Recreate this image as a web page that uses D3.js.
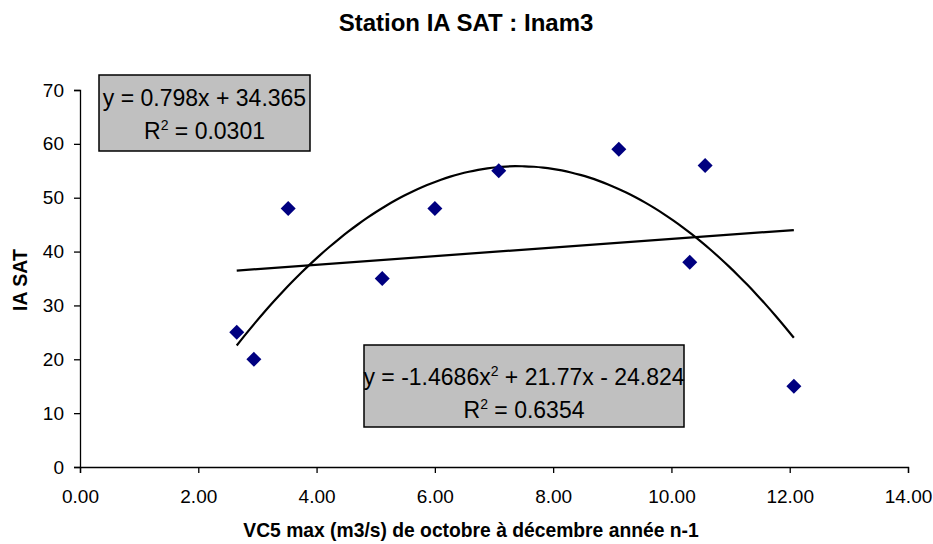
<!DOCTYPE html>
<html><head><meta charset="utf-8">
<script src="https://cdn.jsdelivr.net/npm/d3@7"></script>
<style>body{margin:0;background:#fff}svg{display:block}text{font-family:"Liberation Sans",Arial,sans-serif}</style>
</head><body><svg id="c" width="933" height="544"></svg>
<script>
const xValues = [2.65, 2.94, 3.52, 5.11, 6.00, 7.08, 9.11, 10.31, 10.57, 12.07];
const yValues = [25, 20, 48, 35, 48, 55, 59, 38, 56, 15];
const linearCoef = [34.365, 0.798];            // a + b x
const polyCoef = [-24.824, 21.77, -1.4686];   // a + b x + c x^2
const xTicks = [0, 2, 4, 6, 8, 10, 12, 14];
const yTicks = [0, 10, 20, 30, 40, 50, 60, 70];
const title = "Station IA SAT : Inam3";
const xTitle = "VC5 max (m3/s) de octobre à décembre année n-1";
const yTitle = "IA SAT";

const svg = d3.select("#c");
const x = d3.scaleLinear().domain([0, 14]).range([80, 908]);
const y = d3.scaleLinear().domain([0, 70]).range([467, 90]);

svg.append("text").attr("x", 466).attr("y", 31).attr("text-anchor", "middle")
  .attr("font-weight", "bold").attr("font-size", 24).text(title);

const xAxis = svg.append("g").attr("transform", "translate(0,467)")
  .call(d3.axisBottom(x).tickValues(xTicks).tickFormat(d3.format(".2f")).tickSizeOuter(0).tickSize(6).tickPadding(17));
const yAxis = svg.append("g").attr("transform", "translate(80,0)")
  .call(d3.axisLeft(y).tickValues(yTicks).tickSizeOuter(0).tickSize(6).tickPadding(10));
[xAxis, yAxis].forEach(g => {
  g.selectAll("path,line").attr("stroke", "#000").attr("stroke-width", 1.3);
  g.selectAll("text").attr("font-size", 19).attr("fill", "#000")
    .attr("font-family", '"Liberation Sans",Arial,sans-serif');
});

svg.append("text").attr("x", 471).attr("y", 537).attr("text-anchor", "middle")
  .attr("font-weight", "bold").attr("font-size", 19.3).text(xTitle);
svg.append("text").attr("transform", "translate(27,280) rotate(-90)").attr("text-anchor", "middle")
  .attr("font-weight", "bold").attr("font-size", 19.5).text(yTitle);

const xmin = d3.min(xValues), xmax = d3.max(xValues);
const lin = d => linearCoef[0] + linearCoef[1] * d;
const poly = d => polyCoef[0] + polyCoef[1] * d + polyCoef[2] * d * d;

svg.append("path").attr("fill", "none").attr("stroke", "#000").attr("stroke-width", 2.2)
  .attr("d", d3.line().x(d => x(d)).y(d => y(lin(d)))([xmin, xmax]));
const samples = d3.range(0, 61).map(i => xmin + (xmax - xmin) * i / 60);
svg.append("path").attr("fill", "none").attr("stroke", "#000").attr("stroke-width", 2.2)
  .attr("d", d3.line().x(d => x(d)).y(d => y(poly(d))).curve(d3.curveMonotoneX)(samples));

const pts = xValues.map((v, i) => [v, yValues[i]]);
svg.append("g").selectAll("path").data(pts).join("path")
  .attr("transform", d => `translate(${x(d[0])},${y(d[1])})`)
  .attr("d", "M0,-7.5L7.5,0L0,7.5L-7.5,0Z").attr("fill", "#000080");

function box(x0, y0, w, h, b1, b2, l1, r2) {
  svg.append("rect").attr("x", x0).attr("y", y0).attr("width", w).attr("height", h)
    .attr("fill", "#c0c0c0").attr("stroke", "#000").attr("stroke-width", 1.5);
  const cx = x0 + w / 2;
  const t1 = svg.append("text").attr("x", cx).attr("y", y0 + b1).attr("text-anchor", "middle").attr("font-size", 23);
  l1.forEach(p => { const s = t1.append("tspan").text(p.t); if (p.sup) s.attr("font-size", 14).attr("dy", -9); else if (p.after) s.attr("dy", 9); });
  const t2 = svg.append("text").attr("x", cx).attr("y", y0 + b2).attr("text-anchor", "middle").attr("font-size", 23);
  t2.append("tspan").text("R");
  t2.append("tspan").text("2").attr("font-size", 14).attr("dy", -9);
  t2.append("tspan").text(" = " + r2).attr("dy", 9);
}
box(99, 75, 211, 76, 31, 64, [{t: "y = 0.798x + 34.365"}], "0.0301");
box(364, 345, 320, 82, 40, 73, [{t: "y = -1.4686x"}, {t: "2", sup: true}, {t: " + 21.77x - 24.824", after: true}], "0.6354");
</script></body></html>
